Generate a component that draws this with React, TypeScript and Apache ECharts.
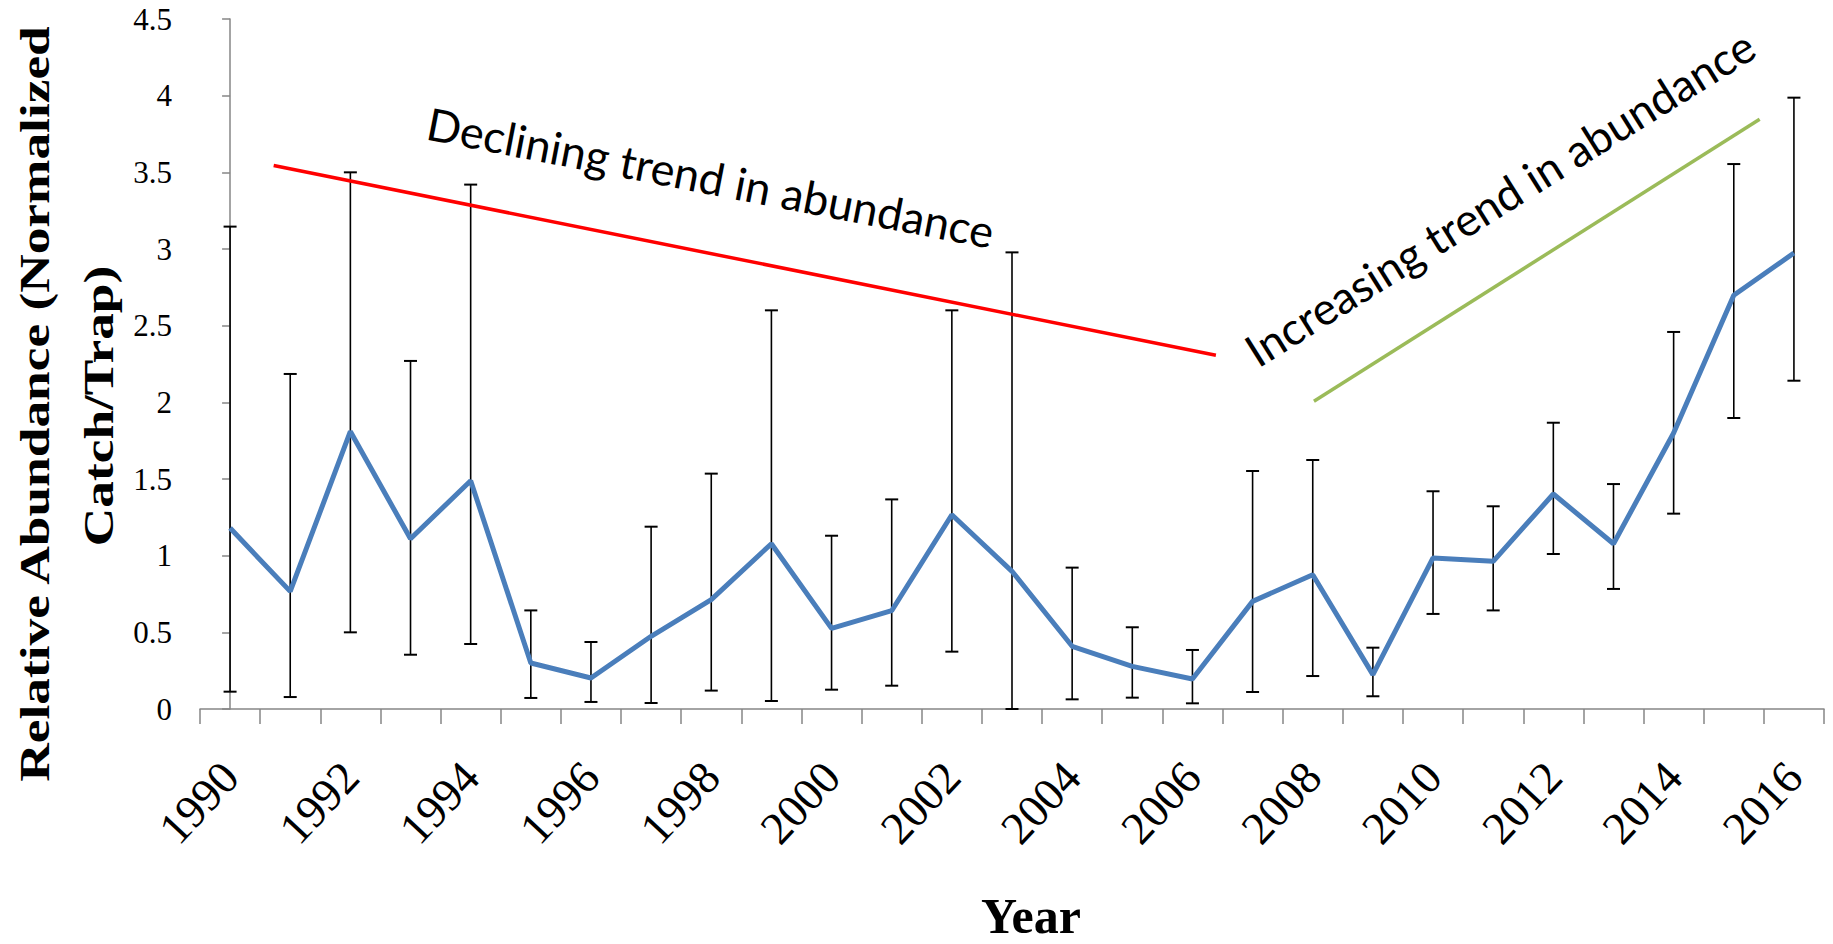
import React, { useEffect, useRef } from "react";
import * as echarts from "echarts";

// ---- data ----
const years = [
  1990, 1991, 1992, 1993, 1994, 1995, 1996, 1997, 1998, 1999, 2000, 2001, 2002, 2003,
  2004, 2005, 2006, 2007, 2008, 2009, 2010, 2011, 2012, 2013, 2014, 2015, 2016,
];
const meanAbundance = [
  1.18, 0.767, 1.81, 1.11, 1.489, 0.3, 0.202, 0.474, 0.713, 1.078, 0.526, 0.641, 1.267, 0.898,
  0.409, 0.278, 0.196, 0.702, 0.876, 0.224, 0.985, 0.963, 1.402, 1.078, 1.8, 2.698, 2.974,
];
const upperBound = [
  3.146, 2.185, 3.5, 2.27, 3.42, 0.643, 0.437, 1.189, 1.535, 2.6, 1.13, 1.367, 2.6, 2.978,
  0.922, 0.533, 0.385, 1.552, 1.624, 0.4, 1.42, 1.322, 1.867, 1.467, 2.459, 3.554, 3.987,
];
const lowerBound = [
  0.113, 0.078, 0.5, 0.354, 0.424, 0.072, 0.046, 0.039, 0.12, 0.052, 0.126, 0.152, 0.374, 0.0,
  0.063, 0.074, 0.037, 0.111, 0.215, 0.083, 0.62, 0.643, 1.011, 0.783, 1.274, 1.898, 2.141,
];
// trend annotation lines, in (year index, value) space
const declineTrend = [
  [0.725, 3.544],
  [16.39, 2.307],
];
const increaseTrend = [
  [18.02, 2.007],
  [25.43, 3.846],
];
const declineLabel = { text: "Declining trend in abundance", at: [7.99, 3.467], angle: -10.95 };
const increaseLabel = { text: "Increasing trend in abundance", at: [21.11, 3.334], angle: 32 };
const yTitleLines = ["Relative Abundance (Normalized", "Catch/Trap)"];
const xTitle = "Year";

const AXIS_GREY = "#868686";
const SERIF = "'Liberation Serif', 'Times New Roman', serif";

export default function App() {
  const ref = useRef<HTMLDivElement>(null);

  useEffect(() => {
    if (!ref.current) return;
    const chart = echarts.init(ref.current, null, { renderer: "svg" });

    const option: any = {
      animation: false,
      backgroundColor: "#ffffff",
      grid: { left: 200, right: 9, top: 19, bottom: 235, containLabel: false },
      xAxis: [
        {
          type: "category",
          data: years.map(String),
          boundaryGap: true,
          axisLine: { show: true, lineStyle: { color: AXIS_GREY, width: 1.5 } },
          axisTick: {
            show: true,
            interval: 0,
            alignWithLabel: false,
            length: 15,
            lineStyle: { color: AXIS_GREY, width: 1.5 },
          },
          axisLabel: {
            interval: 1,
            rotate: 47,
            margin: 60,
            fontFamily: SERIF,
            fontSize: 46,
            color: "#000",
          },
          splitLine: { show: false },
        },
        { type: "value", min: -0.5, max: 26.5, show: false },
      ],
      yAxis: {
        type: "value",
        min: 0,
        max: 4.5,
        interval: 0.5,
        axisLine: { show: true, lineStyle: { color: AXIS_GREY, width: 1.5 } },
        axisTick: { show: true, length: 8, lineStyle: { color: AXIS_GREY, width: 1.5 } },
        axisLabel: { margin: 28, fontFamily: SERIF, fontSize: 31, color: "#000" },
        splitLine: { show: false },
      },
      series: [
        {
          type: "custom",
          name: "error",
          xAxisIndex: 0,
          z: 2,
          encode: { x: 0, y: [1, 2] },
          data: years.map((_, i) => [i, lowerBound[i], upperBound[i]]),
          renderItem: (params: any, api: any) => {
            const i = api.value(0);
            const lo = api.coord([i, api.value(1)]);
            const hi = api.coord([i, api.value(2)]);
            const hw = 6.5;
            const st = { stroke: "#000", lineWidth: 1.6 };
            return {
              type: "group",
              children: [
                { type: "line", shape: { x1: lo[0], y1: lo[1], x2: hi[0], y2: hi[1] }, style: st },
                { type: "line", shape: { x1: lo[0] - hw, y1: lo[1], x2: lo[0] + hw, y2: lo[1] }, style: { stroke: "#000", lineWidth: 2 } },
                { type: "line", shape: { x1: hi[0] - hw, y1: hi[1], x2: hi[0] + hw, y2: hi[1] }, style: { stroke: "#000", lineWidth: 2 } },
              ],
            };
          },
        },
        {
          type: "line",
          name: "decline",
          xAxisIndex: 1,
          z: 3,
          data: declineTrend,
          symbol: "none",
          lineStyle: { color: "#FF0000", width: 3.5 },
        },
        {
          type: "line",
          name: "increase",
          xAxisIndex: 1,
          z: 3,
          data: increaseTrend,
          symbol: "none",
          lineStyle: { color: "#9BBB59", width: 3.5 },
        },
        {
          type: "line",
          name: "abundance",
          xAxisIndex: 0,
          z: 4,
          data: meanAbundance,
          symbol: "none",
          lineStyle: { color: "#4A7EBB", width: 5 },
        },
      ],
    };
    chart.setOption(option);

    const p1 = chart.convertToPixel({ xAxisIndex: 1, yAxisIndex: 0 }, declineLabel.at) as number[];
    const p2 = chart.convertToPixel({ xAxisIndex: 1, yAxisIndex: 0 }, increaseLabel.at) as number[];
    const annStyle = (text: string) => ({
      text,
      fontFamily: "Lato, 'Open Sans', sans-serif",
      fontSize: 45,
      fill: "#000",
      align: "center",
      verticalAlign: "middle",
      textAlign: "center",
      textVerticalAlign: "middle",
    });
    const titleStyle = (text: string, size: number) => ({
      text,
      fontFamily: SERIF,
      fontWeight: "bold",
      fontSize: size,
      fill: "#000",
      align: "center",
      verticalAlign: "middle",
      textAlign: "center",
      textVerticalAlign: "middle",
    });

    chart.setOption({
      graphic: [
        { type: "text", x: p1[0], y: p1[1], rotation: (declineLabel.angle * Math.PI) / 180, style: annStyle(declineLabel.text) },
        { type: "text", x: p2[0], y: p2[1], rotation: (increaseLabel.angle * Math.PI) / 180, style: annStyle(increaseLabel.text) },
        { type: "text", x: 35, y: 404, rotation: Math.PI / 2, scaleX: 1.27, style: titleStyle(yTitleLines[0], 42) },
        { type: "text", x: 99, y: 406, rotation: Math.PI / 2, scaleX: 1.27, style: titleStyle(yTitleLines[1], 42) },
        { type: "text", x: 1031, y: 916, style: titleStyle(xTitle, 50) },
      ],
    });

    return () => chart.dispose();
  }, []);

  return (
    <div
      ref={ref}
      style={{ position: "absolute", left: 0, top: 0, width: 1833, height: 944 }}
    />
  );
}
